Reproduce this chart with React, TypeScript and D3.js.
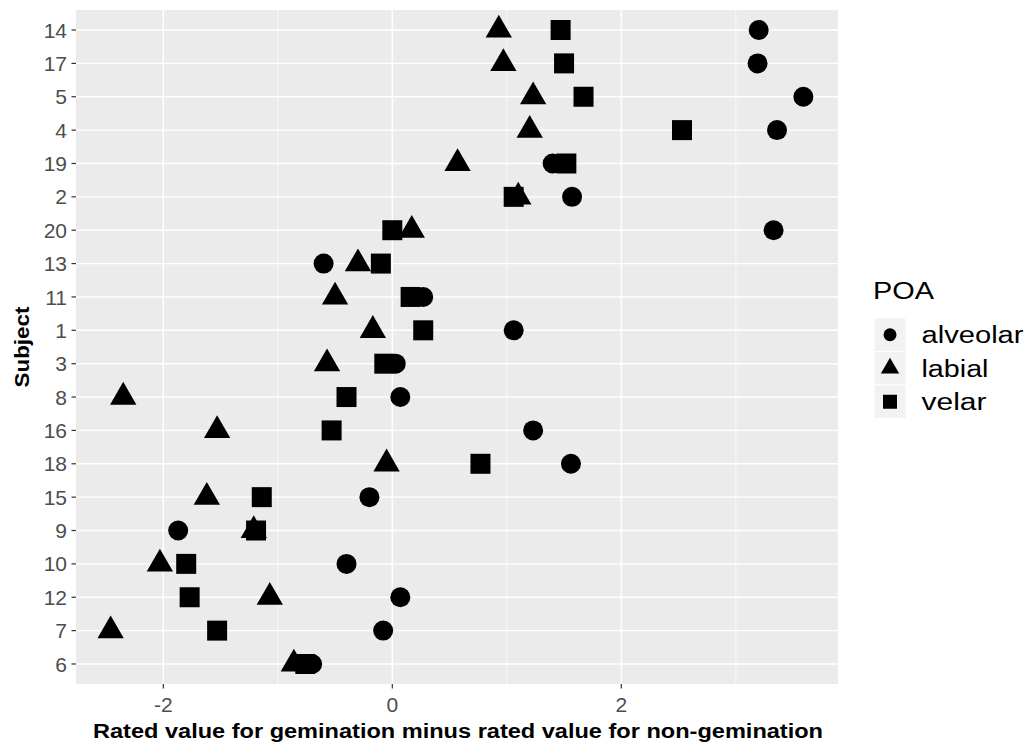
import React from "react";
import * as d3 from "d3";

// Subjects, top row first
const subjects = ["14", "17", "5", "4", "19", "2", "20", "13", "11", "1", "3", "8", "16", "18", "15", "9", "10", "12", "7", "6"];

// Rated value for gemination minus rated value for non-gemination, per place of articulation
const alveolar = [3.2, 3.19, 3.59, 3.36, 1.4, 1.57, 3.33, -0.6, 0.27, 1.06, 0.03, 0.07, 1.23, 1.56, -0.2, -1.87, -0.4, 0.07, -0.08, -0.7];
const labial = [0.93, 0.97, 1.23, 1.2, 0.57, 1.1, 0.17, -0.3, -0.5, -0.17, -0.57, -2.35, -1.53, -0.05, -1.62, -1.21, -2.03, -1.07, -2.46, -0.86];
const velar = [1.47, 1.5, 1.67, 2.53, 1.52, 1.06, 0.0, -0.1, 0.16, 0.27, -0.07, -0.4, -0.53, 0.77, -1.14, -1.19, -1.8, -1.77, -1.53, -0.76];

const poaLevels = ["alveolar", "labial", "velar"];
const xMajorTicks = [-2, 0, 2];
const xMinorTicks = [-1, 1, 3];

const W = 1030;
const H = 747;
const panel = { left: 76, right: 838, top: 10, bottom: 684 };
const FONT = "'Liberation Sans', Arial, Helvetica, sans-serif";

type Pt = { subject: string; poa: string; value: number };

const points: Pt[] = [];
[alveolar, labial, velar].forEach((series, k) => {
  series.forEach((v, i) => points.push({ subject: subjects[i], poa: poaLevels[k], value: v }));
});

const shapeType: Record<string, d3.SymbolType> = {
  alveolar: d3.symbolCircle,
  labial: d3.symbolTriangle,
  velar: d3.symbolSquare,
};
// symbol areas for plot points and legend keys
const plotSize: Record<string, number> = { alveolar: Math.PI * 10 * 10, labial: 3 * Math.sqrt(3) * 7.6 * 7.6, velar: 20 * 20 };
const keySize: Record<string, number> = { alveolar: Math.PI * 6.5 * 6.5, labial: 3 * Math.sqrt(3) * 5.3 * 5.3, velar: 14 * 14 };

export default function App() {
  const ext = d3.extent(points, (d) => d.value) as [number, number];
  const pad = (ext[1] - ext[0]) * 0.05;
  const x = d3.scaleLinear().domain([ext[0] - pad, ext[1] + pad]).range([panel.left, panel.right]);
  const y = d3.scalePoint<string>().domain(subjects).range([panel.top, panel.bottom]).padding(0.6);

  const sym = (poa: string, size: number) => d3.symbol().type(shapeType[poa]).size(size)() as string;

  const keyTop = 318;
  const keyStep = 33.5;
  const labelLengths = [102, 67, 65];

  return (
    <svg
      width={W}
      height={H}
      style={{ position: "absolute", left: 0, top: 0, display: "block", background: "#fff" }}
      fontFamily={FONT}
    >
      {/* panel */}
      <rect x={panel.left} y={panel.top} width={panel.right - panel.left} height={panel.bottom - panel.top} fill="#EBEBEB" />
      {xMinorTicks.map((t) => (
        <line key={"mn" + t} x1={x(t)} x2={x(t)} y1={panel.top} y2={panel.bottom} stroke="#fff" strokeWidth={0.7} />
      ))}
      {xMajorTicks.map((t) => (
        <line key={"mj" + t} x1={x(t)} x2={x(t)} y1={panel.top} y2={panel.bottom} stroke="#fff" strokeWidth={1.4} />
      ))}
      {subjects.map((s) => (
        <line key={"h" + s} x1={panel.left} x2={panel.right} y1={y(s)} y2={y(s)} stroke="#fff" strokeWidth={1.4} />
      ))}

      {/* points */}
      {points.map((p, i) => (
        <path key={i} d={sym(p.poa, plotSize[p.poa])} transform={`translate(${x(p.value)},${y(p.subject)})`} fill="#000" />
      ))}

      {/* y axis */}
      {subjects.map((s) => (
        <g key={"yt" + s}>
          <line x1={panel.left - 4.5} x2={panel.left} y1={y(s)} y2={y(s)} stroke="#333" strokeWidth={1.2} />
          <text x={67} y={y(s)} dy="0.36em" textAnchor="end" fontSize={21} fill="#4D4D4D">
            {s}
          </text>
        </g>
      ))}
      {/* x axis */}
      {xMajorTicks.map((t) => (
        <g key={"xt" + t}>
          <line x1={x(t)} x2={x(t)} y1={panel.bottom} y2={panel.bottom + 4.5} stroke="#333" strokeWidth={1.2} />
          <text x={x(t)} y={712} textAnchor="middle" fontSize={21} fill="#4D4D4D">
            {String(t)}
          </text>
        </g>
      ))}

      {/* axis titles */}
      <text x={93} y={738} fontSize={20} fontWeight="bold" fill="#000" textLength={730} lengthAdjust="spacingAndGlyphs">
        Rated value for gemination minus rated value for non-gemination
      </text>
      <text
        transform={`translate(29,${(panel.top + panel.bottom) / 2 + 40.5}) rotate(-90)`}
        fontSize={21}
        fontWeight="bold"
        fill="#000"
        textLength={81}
        lengthAdjust="spacingAndGlyphs"
      >
        Subject
      </text>

      {/* legend */}
      <text x={873} y={299} fontSize={24.5} fill="#000" textLength={61} lengthAdjust="spacingAndGlyphs">
        POA
      </text>
      {poaLevels.map((poa, i) => {
        const top = keyTop + i * keyStep;
        const cy = top + keyStep / 2;
        return (
          <g key={poa}>
            <rect x={874} y={top} width={32} height={keyStep} fill="#F2F2F2" stroke="#fff" strokeWidth={1} />
            <path d={sym(poa, keySize[poa])} transform={`translate(890,${cy})`} fill="#000" />
            <text x={921.5} y={cy + 8.5} fontSize={23} fill="#000" textLength={labelLengths[i]} lengthAdjust="spacingAndGlyphs">
              {poa}
            </text>
          </g>
        );
      })}
    </svg>
  );
}
